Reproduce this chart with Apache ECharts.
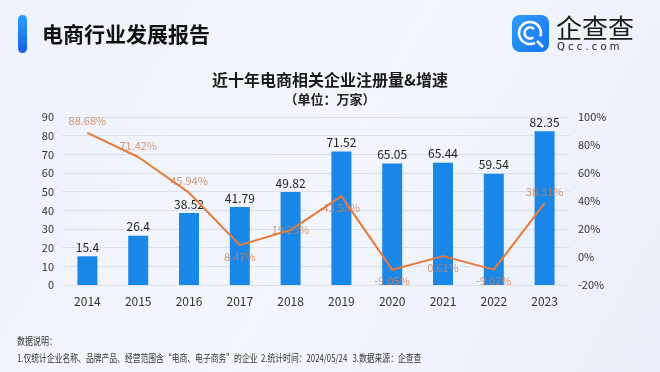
<!DOCTYPE html>
<html><head><meta charset="utf-8">
<script src="https://cdn.jsdelivr.net/npm/echarts@6/dist/echarts.min.js"></script>
<style>html,body{margin:0;padding:0;width:660px;height:372px;overflow:hidden}#c{width:660px;height:372px}</style>
</head><body><div id="c"></div>
<script>
const years = ['2014','2015','2016','2017','2018','2019','2020','2021','2022','2023'];
const registrations = [15.4, 26.4, 38.52, 41.79, 49.82, 71.52, 65.05, 65.44, 59.54, 82.35];
const growth = [88.68, 71.42, 45.94, 8.47, 19.23, 43.53, -9.05, 0.61, -9.02, 38.31];
const growthLabelPos = ['top','top','top','bottom','inside','bottom','bottom','bottom','bottom','top'];

const chart = echarts.init(document.getElementById('c'), null, {renderer:'canvas'});
const FF = '"Noto Sans CJK SC","Noto Sans",sans-serif';
chart.setOption({
  backgroundColor: {type:'linear', x:0, y:0, x2:1, y2:1, colorStops:[
    {offset:0, color:'#eef2fb'},{offset:0.5, color:'#f3f6fc'},{offset:1, color:'#e9eef8'}]},
  textStyle:{fontFamily:FF},
  title:[{
    text:'近十年电商相关企业注册量&增速', left:'center', top:67,
    textStyle:{fontSize:16, fontWeight:'bold', color:'#1a1a1a', fontFamily:FF}
  },{
    text:'（单位：万家）', left:'center', top:88,
    textStyle:{fontSize:13, fontWeight:'bold', color:'#222', fontFamily:FF}
  }],
  grid:{left:62, right:90, top:117, bottom:87},
  xAxis:{type:'category', data:years,
    axisLine:{show:false}, axisTick:{show:false},
    axisLabel:{color:'#333', fontSize:12, margin:10}},
  yAxis:[{type:'value', min:0, max:90, interval:10,
    axisLabel:{color:'#333', fontSize:11, margin:8},
    splitLine:{lineStyle:{color:'#dce2ec'}}},
   {type:'value', min:-20, max:100, interval:20,
    axisLabel:{color:'#333', fontSize:11, formatter:'{value}%', margin:8},
    splitLine:{show:false}}],
  series:[{
    type:'bar', data:registrations, barWidth:20,
    itemStyle:{color:'#1a88e9'},
    label:{show:true, position:'top', color:'#222', fontSize:12, distance:3}
  },{
    type:'line', yAxisIndex:1,
    data: growth.map((v,i)=>({value:v, label:{position:growthLabelPos[i]}})),
    symbol:'circle', symbolSize:0.1, showSymbol:true,
    lineStyle:{color:'#e8793a', width:2},
    itemStyle:{color:'#e8793a'},
    label:{show:true, color:'rgba(205,125,80,0.8)', fontSize:11, distance:6,
      formatter: p => p.value.toFixed(2) + '%'}
  }],
  graphic:[
    {type:'rect', shape:{x:18, y:15, width:9, height:38, r:4.5},
     style:{fill:{type:'linear',x:0,y:0,x2:0,y2:1,colorStops:[{offset:0,color:'#2aa0ff'},{offset:1,color:'#1a5fe8'}]}}},
    {type:'text', style:{x:42, y:34, text:'电商行业发展报告', font:'bold 21px '+FF, fill:'#111', textVerticalAlign:'middle'}},
    {type:'rect', shape:{x:512, y:15, width:37, height:37, r:8},
     style:{fill:{type:'linear',x:0,y:0,x2:1,y2:1,colorStops:[{offset:0,color:'#2f9bff'},{offset:1,color:'#1676f3'}]}}},
    {type:'arc', shape:{cx:530, cy:33, r:11, startAngle:Math.PI*0.35, endAngle:Math.PI*2.1}, style:{stroke:'#fff', lineWidth:2.5, fill:null}},
    {type:'arc', shape:{cx:530, cy:33, r:5.5, startAngle:Math.PI*0.3, endAngle:Math.PI*1.75}, style:{stroke:'#fff', lineWidth:2.5, fill:null}},
    {type:'line', shape:{x1:537, y1:41, x2:543, y2:47}, style:{stroke:'#fff', lineWidth:2.5}},
    {type:'text', style:{x:556, y:28, text:'企查查', font:'26px '+FF, fill:'#1c1c1c', textVerticalAlign:'middle'}},
    {type:'text', style:{x:557, y:47, text:'Q c c . c o m', font:'10px "DejaVu Sans",sans-serif', fill:'#222', textVerticalAlign:'middle'}},
    {type:'text', x:17, y:341, scaleX:0.8, style:{x:0, y:0, text:'数据说明：', font:'10px '+FF, fill:'#333', textVerticalAlign:'middle'}},
    {type:'text', x:17, y:358, scaleX:0.78, style:{x:0, y:0, text:'1.仅统计企业名称、品牌产品、经营范围含“电商、电子商务”的企业  2.统计时间：2024/05/24   3.数据来源：企查查', font:'10px '+FF, fill:'#333', textVerticalAlign:'middle'}}
  ]
});
</script></body></html>
